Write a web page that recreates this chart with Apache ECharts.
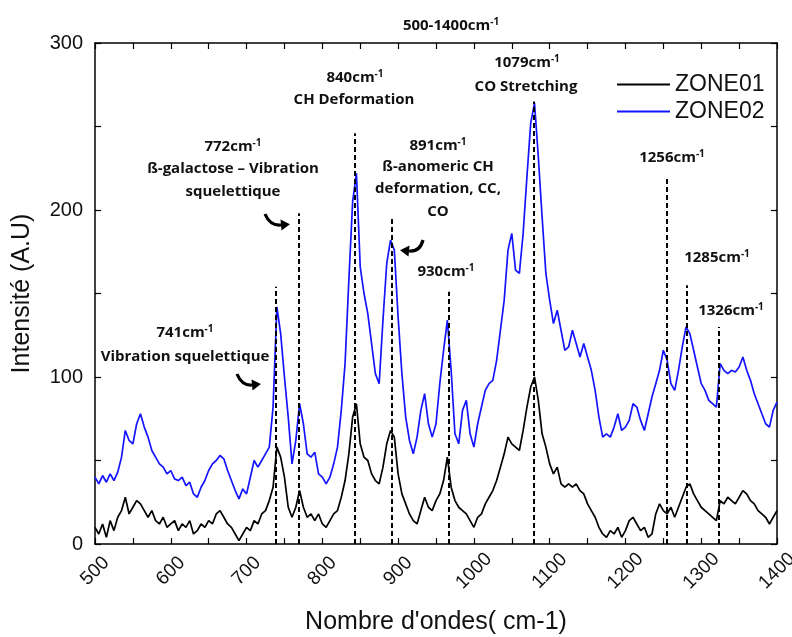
<!DOCTYPE html>
<html>
<head>
<meta charset="utf-8">
<script src="https://cdn.jsdelivr.net/npm/echarts@6/dist/echarts.min.js"></script>
<style>html,body{margin:0;padding:0;background:#fff;}#c{width:792px;height:637px;}</style>
</head>
<body>
<div id="c"></div>
<script>
// Wavenumber grid (cm-1), step 5
var wavenumbers = [];
for (var w = 500; w <= 1400; w += 5) wavenumbers.push(w);

// ZONE01 (black) intensities
var zone01 = [
10,6,12,4,14,8,16,20,28,18,22,26,24,20,16,20,14,12,16,10,
12,14,8,12,10,14,6,8,12,10,14,12,18,20,16,12,10,6,2,6,
10,8,14,12,18,20,26,34,58,52,40,22,16,22,32,22,16,18,14,18,
12,10,14,18,20,28,38,54,76,84,60,52,50,42,38,36,46,60,68,64,
42,30,24,18,14,12,20,28,22,20,26,30,38,52,34,26,22,20,18,14,
10,16,18,24,28,32,38,46,54,64,60,58,56,68,82,94,100,86,66,58,
48,42,46,36,34,36,34,36,32,30,24,20,16,10,6,4,8,6,10,4,
8,14,16,12,8,10,4,6,18,24,20,18,22,16,22,28,34,36,30,26,
22,20,18,16,14,26,24,28,26,24,28,32,30,26,24,20,18,16,12,16,
20
];

// ZONE02 (blue) intensities
var zone02 = [
40,36,41,37,42,38,43,52,68,62,60,72,78,70,64,56,52,48,46,42,
44,39,38,40,35,37,30,28,34,38,44,48,50,53,51,44,38,32,27,33,
30,40,50,46,50,54,58,82,142,126,100,76,48,62,84,72,54,52,55,42,
40,36,40,48,58,80,108,158,205,222,166,150,138,120,102,96,134,168,182,176,
136,102,76,62,54,64,80,90,72,64,72,96,116,134,104,66,60,80,86,66,
58,72,82,92,96,98,110,128,146,176,186,164,162,186,220,252,264,232,196,162,
146,132,140,128,116,118,128,120,112,120,112,104,92,76,64,66,64,70,78,68,
70,74,84,82,74,68,78,88,96,104,116,110,96,92,104,118,130,126,116,106,
96,92,86,84,82,108,104,102,104,103,106,112,104,98,90,84,78,72,70,80,
85
];

// Peak markers (dashed lines): wavenumber and top intensity
var peakWavenumbers = [739, 769, 843, 892, 967, 1079, 1255, 1281, 1323];
var peakTops = [154, 198, 246, 196, 151, 265, 220, 155, 130];

// Axis ticks
var xTicks = [500, 600, 700, 800, 900, 1000, 1100, 1200, 1300, 1400];
var yTicks = [0, 100, 200, 300];

var seriesNames = ['ZONE01', 'ZONE02'];

function pairs(xs, ys) {
  var out = [];
  for (var i = 0; i < xs.length; i++) out.push([xs[i], ys[i]]);
  return out;
}

var chart = echarts.init(document.getElementById('c'), null, {renderer: 'canvas'});

var FONT = 'Liberation Sans, Arial, sans-serif';
var AFONT = 'Open Sans, Noto Sans, sans-serif';

var markData = peakWavenumbers.map(function (w, i) {
  return [{coord: [w, 0]}, {coord: [w, peakTops[i]]}];
});

function axisCommon(showLabels) {
  return {
    axisLine: {show: true, onZero: false, lineStyle: {color: '#000', width: 1.5}},
    axisTick: {show: true, inside: true, length: 6, lineStyle: {color: '#000', width: 1.2}},
    minorTick: {show: true, splitNumber: 2, length: 6, lineStyle: {color: '#000', width: 1.2}},
    splitLine: {show: false},
    axisLabel: {show: showLabels}
  };
}

var xMain = Object.assign(axisCommon(true), {
  type: 'value', min: xTicks[0], max: xTicks[xTicks.length - 1], interval: 100,
  position: 'bottom',
  name: "Nombre d'ondes( cm-1)", nameLocation: 'middle', nameGap: 66,
  nameTextStyle: {fontFamily: FONT, fontSize: 25, color: '#111'}
});
xMain.axisLabel = {show: true, rotate: 45, margin: 27, align: 'center', verticalAlign: 'middle',
  fontFamily: FONT, fontSize: 19, color: '#111',
  formatter: function (v) { return String(v); }};
var xTop = Object.assign(axisCommon(false), {
  type: 'value', min: xTicks[0], max: xTicks[xTicks.length - 1], interval: 100, position: 'top'
});
var yMain = Object.assign(axisCommon(true), {
  type: 'value', min: yTicks[0], max: yTicks[yTicks.length - 1], interval: 100,
  position: 'left',
  name: 'Intensité (A.U)', nameLocation: 'middle', nameGap: 60,
  nameTextStyle: {fontFamily: FONT, fontSize: 25, color: '#111'}
});
yMain.axisLabel = {show: true, margin: 12, fontFamily: FONT, fontSize: 20, color: '#111',
  formatter: function (v) { return String(v); }};
var yRight = Object.assign(axisCommon(false), {
  type: 'value', min: yTicks[0], max: yTicks[yTicks.length - 1], interval: 100, position: 'right'
});

chart.setOption({
  animation: false,
  backgroundColor: '#fff',
  grid: {left: 95, right: 15, top: 43, bottom: 93, containLabel: false, outerBoundsMode: 'none'},
  legend: {
    data: seriesNames, orient: 'vertical', left: 612, top: 68,
    itemWidth: 53, itemHeight: 2, icon: 'rect', itemGap: 4,
    textStyle: {fontFamily: FONT, fontSize: 23, color: '#111'}
  },
  xAxis: [xMain, xTop],
  yAxis: [yMain, yRight],
  series: [
    {name: seriesNames[0], type: 'line', data: pairs(wavenumbers, zone01), symbol: 'none',
     lineStyle: {color: '#000', width: 1.7}, itemStyle: {color: '#000'}, z: 2},
    {name: seriesNames[1], type: 'line', data: pairs(wavenumbers, zone02), symbol: 'none',
     lineStyle: {color: '#1414ff', width: 1.7}, itemStyle: {color: '#1414ff'}, z: 3},
    {name: 'peaks', type: 'line', data: [], z: 5,
     markLine: {silent: true, symbol: 'none', label: {show: false},
       lineStyle: {color: '#000', width: 2, type: [5, 3]}, data: markData}}
  ]
});

// Annotation texts (pixel positions of text centres)
function supText(base, x, y) {
  return {
    type: 'text', x: x, y: y, z: 10,
    style: {
      text: '{n|' + base + '}{s|-1}', align: 'center', verticalAlign: 'middle', fill: '#111',
      rich: {
        n: {fontFamily: AFONT, fontSize: 15, fontWeight: 'bold', fill: '#111'},
        s: {fontFamily: AFONT, fontSize: 10, fontWeight: 'bold', fill: '#111', verticalAlign: 'top', padding: [0, 0, 8, 0]}
      }
    }
  };
}
function plain(t, x, y) {
  return {type: 'text', x: x, y: y, z: 10,
    style: {text: t, align: 'center', verticalAlign: 'middle', fill: '#111',
      font: 'bold 15px ' + AFONT}};
}
function arrow(sx, sy, cx, cy, ex, ey) {
  var dx = ex - cx, dy = ey - cy, L = Math.sqrt(dx * dx + dy * dy);
  dx /= L; dy /= L;
  var px = -dy, py = dx;
  var tip = [ex + dx * 9, ey + dy * 9];
  return [
    {type: 'bezierCurve', z: 10, shape: {x1: sx, y1: sy, cpx1: cx, cpy1: cy, x2: ex, y2: ey},
     style: {stroke: '#000', lineWidth: 3.2, fill: null}},
    {type: 'polygon', z: 10, shape: {points: [tip, [ex + px * 5.5, ey + py * 5.5], [ex - px * 5.5, ey - py * 5.5]]},
     style: {fill: '#000'}}
  ];
}

var g = [
  supText('500-1400cm', 451, 26),
  supText('840cm', 355, 78), plain('CH Deformation', 354, 100),
  supText('772cm', 233, 147), plain('ß-galactose – Vibration', 233, 169), plain('squelettique', 233, 192),
  supText('891cm', 438, 146), plain('ß-anomeric CH', 438, 167), plain('deformation, CC,', 438, 189), plain('CO', 438, 212),
  supText('1079cm', 527, 63), plain('CO Stretching', 526, 87),
  supText('1256cm', 672, 158),
  supText('930cm', 446, 272),
  supText('1285cm', 717, 258),
  supText('1326cm', 731, 311),
  supText('741cm', 185, 333), plain('Vibration squelettique', 185, 357)
];
g = g.concat(arrow(265, 214, 270, 226, 281, 225));
g = g.concat(arrow(423, 240, 420, 252, 409, 251));
g = g.concat(arrow(237, 374, 242, 386, 252, 385));

chart.setOption({graphic: g});
</script>
</body>
</html>
